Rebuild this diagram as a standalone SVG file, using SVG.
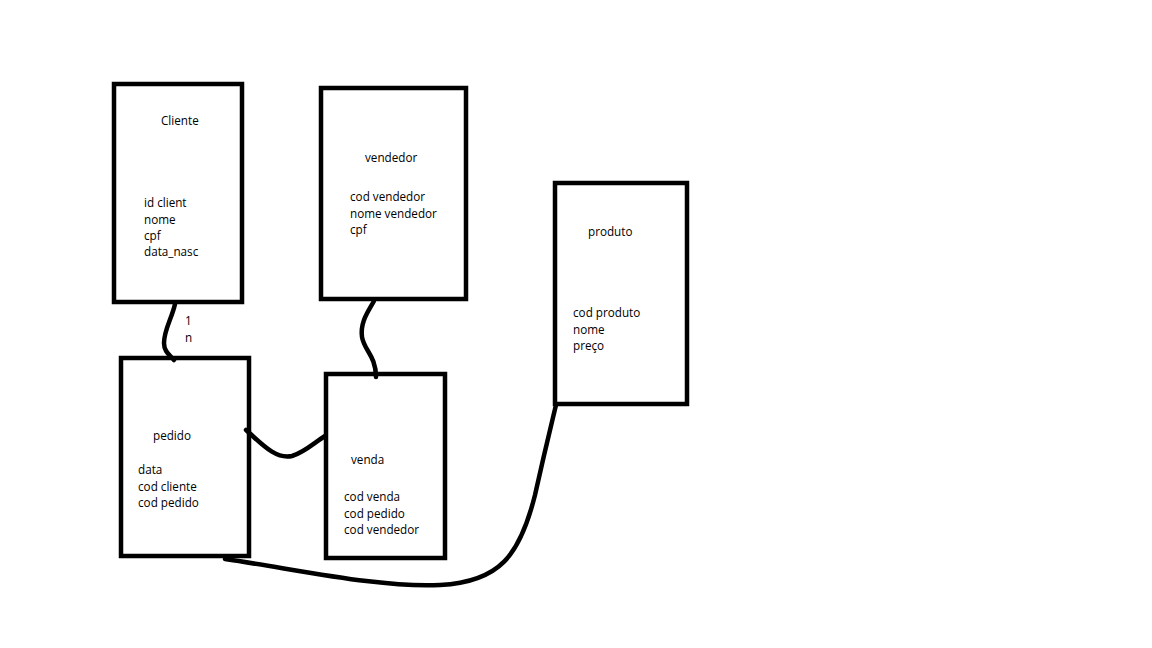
<svg xmlns="http://www.w3.org/2000/svg" width="1152" height="648" viewBox="0 0 1152 648">
<style>
.box{fill:#fff;stroke:#000;stroke-width:4.5}
.con{fill:none;stroke:#000;stroke-width:4.5;stroke-linecap:round}
text{font-family:"Open Sans","Noto Sans",sans-serif;font-size:11.7px;fill:#000}
</style>
<rect width="1152" height="648" fill="#fff"/>
<g id="cliente">
<rect class="box" x="114" y="84" width="128" height="218"/>
<text x="161" y="125">Cliente</text>
<text x="144" y="207">id client</text>
<text x="144" y="224">nome</text>
<text x="144" y="240">cpf</text>
<text x="144" y="256">data_nasc</text>
</g>
<g id="vendedor">
<rect class="box" x="321" y="88" width="145" height="211"/>
<text x="365" y="162">vendedor</text>
<text x="350" y="201">cod vendedor</text>
<text x="350" y="218">nome vendedor</text>
<text x="350" y="234">cpf</text>
</g>
<g id="produto">
<rect class="box" x="555" y="183" width="132" height="221"/>
<text x="588" y="236">produto</text>
<text x="573" y="317">cod produto</text>
<text x="573" y="334">nome</text>
<text x="573" y="350">preço</text>
</g>
<g id="pedido">
<rect class="box" x="121" y="358" width="128" height="198"/>
<text x="153" y="440">pedido</text>
<text x="138" y="474">data</text>
<text x="138" y="491">cod cliente</text>
<text x="138" y="507">cod pedido</text>
</g>
<g id="venda">
<rect class="box" x="326" y="374" width="119" height="184"/>
<text x="351" y="464">venda</text>
<text x="344" y="501">cod venda</text>
<text x="344" y="518">cod pedido</text>
<text x="344" y="534">cod vendedor</text>
</g>
<g id="connectors">
<path class="con" d="M175,304 C172,318 164,330 164,343 C164,352 170,355 174,360"/>
<path class="con" d="M374,301 C368,312 360,322 362,337 C364,350 376,356 376,377"/>
<path class="con" d="M246,430 C260,442 275,460 292,456 C305,452 315,442 325,436"/>
<path class="con" d="M225,559 C300,570 380,588 440,585 C500,582 520,555 535,495 C545,450 550,430 556,405"/>
</g>
<g id="labels">
<text x="185" y="325">1</text>
<text x="185" y="342">n</text>
</g>
</svg>
